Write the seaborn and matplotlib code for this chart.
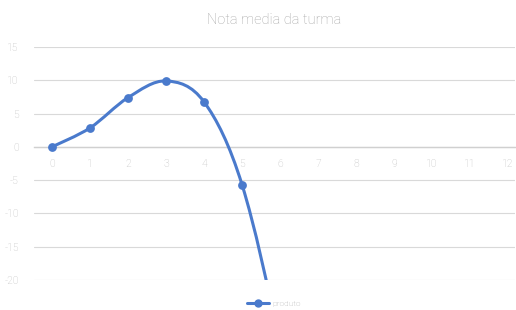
import matplotlib
matplotlib.use("Agg")
import matplotlib.pyplot as plt
from matplotlib.path import Path
from matplotlib.patches import PathPatch
from matplotlib.lines import Line2D
import pandas as pd
import seaborn as sns

# values (6 and 7 fall below the visible range)
x_vals = [0, 1, 2, 3, 4, 5, 6, 7]
y_vals = [0, 2.85, 7.4, 9.9, 6.75, -5.7, -30, -62]
x_ticks = list(range(0, 13))
y_ticks = [-20, -15, -10, -5, 0, 5, 10, 15]
series_name = "produto"
title = "Nota media da turma"

blue = "#4a7acc"
grey_txt = "#bfbfbf"

sns.set_theme(style="white")
plt.rcParams["font.family"] = ["Roboto", "DejaVu Sans"]
plt.rcParams["font.weight"] = "light"
plt.rcParams["axes.unicode_minus"] = False

df = pd.DataFrame({"x": x_vals, "y": y_vals})

fig = plt.figure(figsize=(5.16, 3.10), dpi=100)
ax = fig.add_axes([34 / 516, 1 - 280 / 310, 481 / 516, 233 / 310])

# smoothed line like Excel (Catmull-Rom bezier through the points)
pts = df[["x", "y"]].to_numpy(dtype=float)
verts = [pts[0]]
codes = [Path.MOVETO]
for i in range(len(pts) - 1):
    p0 = pts[i - 1] if i > 0 else pts[i]
    p1 = pts[i]
    p2 = pts[i + 1]
    p3 = pts[i + 2] if i + 2 < len(pts) else pts[i + 1]
    verts += [p1 + (p2 - p0) / 6, p2 - (p3 - p1) / 6, p2]
    codes += [Path.CURVE4] * 3
ax.add_patch(PathPatch(Path(verts, codes), fill=False, edgecolor=blue,
                       lw=2.2, capstyle="round", zorder=3, clip_on=True))

sns.scatterplot(data=df, x="x", y="y", color=blue, s=40, edgecolor=blue,
                linewidth=0, zorder=4, ax=ax, legend=False)

ax.set_xlim(-0.474, 12.18)
ax.set_ylim(-20, 15)
ax.set_yticks(y_ticks)
ax.set_xticks(x_ticks)
ax.set_xticklabels([str(v) for v in x_ticks])
ax.yaxis.grid(True, color="#d9d9d9", lw=0.8)
ax.set_axisbelow(True)
for s in ["top", "right", "left"]:
    ax.spines[s].set_visible(False)
ax.spines["bottom"].set_position(("data", 0))
ax.spines["bottom"].set_color("#d0d0d0")
ax.spines["bottom"].set_linewidth(1.0)
ax.tick_params(axis="both", length=0, labelsize=7.5, colors=grey_txt)
ax.tick_params(axis="x", pad=9)
ax.tick_params(axis="y", pad=11)
ax.set_xlabel("")
ax.set_ylabel("")

fig.text(274 / 516, 1 - 20 / 310, title, ha="center", va="center",
         fontsize=10.5, color="#a6a6a6")

handle = Line2D([], [], color=blue, lw=2.2, marker="o", markersize=5)
fig.legend([handle], [series_name], loc="center", bbox_to_anchor=(274 / 516, 1 - 304 / 310),
           frameon=False, fontsize=6, labelcolor="#a6a6a6", handlelength=2.6,
           handletextpad=0.4)

fig.savefig("out.png", dpi=100)
